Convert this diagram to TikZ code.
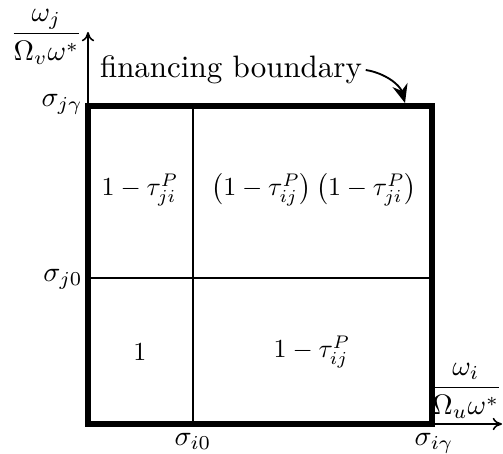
\documentclass[tikz,border=0pt]{standalone}
\usetikzlibrary{arrows.meta}
\begin{document}
\begin{tikzpicture}[x=0.3226pt,y=-0.3226pt,
  boundary/.style={line width=1.9pt},
  divider/.style={line width=0.7pt},
  axis/.style={line width=0.5pt,-{To[length=3pt,width=4pt]}},
  lbl/.style={inner sep=1pt,scale=0.91,transform shape},
  cell/.style={inner sep=0pt,scale=0.84,transform shape}]
\useasboundingbox (0,0) rectangle (503,454);
% corners
\coordinate (bl) at (88,424);
\coordinate (tl) at (88,106);
\coordinate (tr) at (432,106);
\coordinate (br) at (432,424);
\coordinate (vb) at (193,424);
\coordinate (vt) at (193,106);
\coordinate (hl) at (88,278);
\coordinate (hr) at (432,278);
\coordinate (ytip) at (88,32);
\coordinate (xtip) at (502,424);
\coordinate (fbend) at (405,103);
% axes
\draw[axis] (bl) -- (ytip);
\draw[axis] (bl) -- (xtip);
% dividers
\draw[divider] (vb) -- (vt);
\draw[divider] (hl) -- (hr);
% boundary box
\draw[boundary] (bl) rectangle (tr);
% cell labels
\node[cell] (c1) at (140,190) {$1-\tau^P_{ji}$};
\node[cell] (c2) at (314,190) {$\left(1-\tau^P_{ij}\right)\left(1-\tau^P_{ji}\right)$};
\node[cell] (c3) at (140,352) {$1$};
\node[cell] (c4) at (312,352) {$1-\tau^P_{ij}$};
% axis labels
\node[lbl,anchor=east] (sjg) at (86,104) {$\sigma_{j\gamma}$};
\node[lbl,anchor=east] (sj0) at (86,279) {$\sigma_{j0}$};
\node[lbl,anchor=north] (si0) at (193,430) {$\sigma_{i0}$};
\node[lbl,anchor=north] (sig) at (434,430) {$\sigma_{i\gamma}$};
\node[lbl,inner sep=0pt,anchor=east] (yl) at (83,37) {$\displaystyle\frac{\omega_j}{\Omega_v\omega^*}$};
\node[lbl,inner sep=0pt,anchor=east] (xl) at (503,391) {$\displaystyle\frac{\omega_i}{\Omega_u\omega^*}$};
% financing boundary
\node[inner sep=1pt] (fb) at (231,70) {financing boundary};
\draw[line width=0.6pt,-{Stealth[length=6pt,width=5pt]}] (fb.east) .. controls (385,73) and (400,85) .. (fbend);
\end{tikzpicture}
\end{document}
